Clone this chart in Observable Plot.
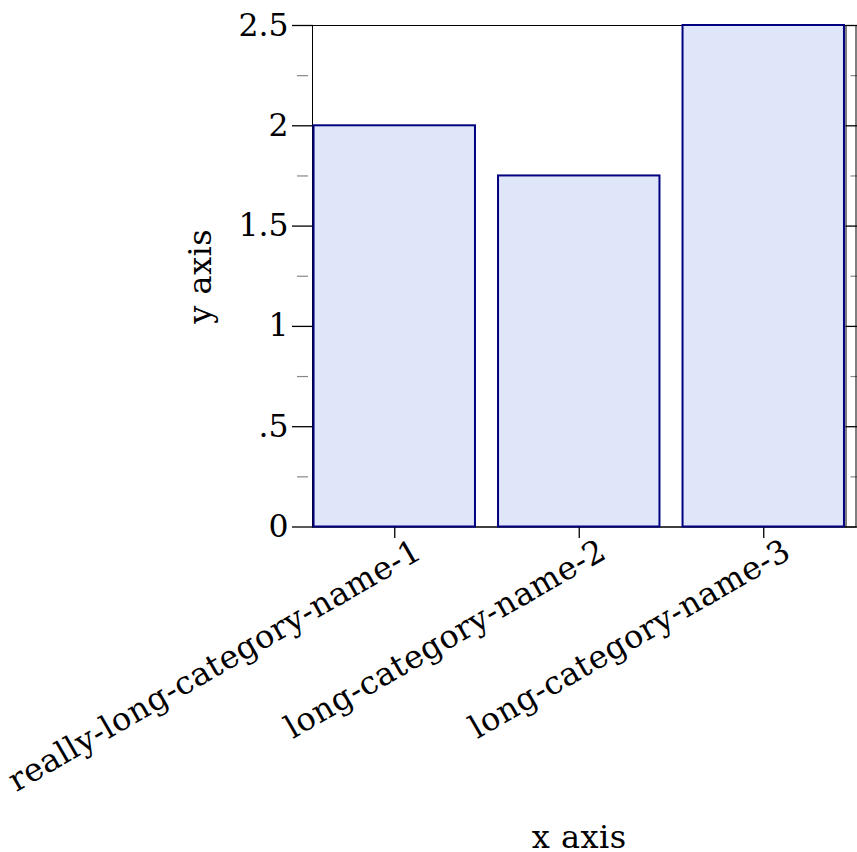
<!DOCTYPE html>
<html><head><meta charset="utf-8">
<script src="https://cdn.jsdelivr.net/npm/d3@7"></script>
<script src="https://cdn.jsdelivr.net/npm/@observablehq/plot@0.6"></script>
<style>body{margin:0;background:#fff} svg{display:block}</style>
</head><body><div id="chart"></div>
<script>
const categories = ["really-long-category-name-1", "long-category-name-2", "long-category-name-3"];
const values = [2, 1.75, 2.5];
const yMajorTicks = [0, 0.5, 1, 1.5, 2, 2.5];
const yTickLabels = ["0", ".5", "1", "1.5", "2", "2.5"];
const yMinorTicks = [0.25, 0.75, 1.25, 1.75, 2.25];
const xLabel = "x axis";
const yLabel = "y axis";

const gap = 1 / 8;
const bars = categories.map((c, i) => ({c, i, v: values[i]}));
const yLabeled = yMajorTicks.map((v, i) => ({v, t: yTickLabels[i]}));
const n = categories.length;

const hline = {draw(ctx, size) { const r = Math.sqrt(size / Math.PI); ctx.moveTo(-r, 0); ctx.lineTo(r, 0); }};
const vdown = {draw(ctx, size) { const r = Math.sqrt(size / Math.PI); ctx.moveTo(0, 0); ctx.lineTo(0, r); }};
const font = "'DejaVu Serif', serif";

const chart = Plot.plot({
  width: 857,
  height: 852,
  marginLeft: 302,
  marginRight: 1.5,
  marginTop: 25,
  marginBottom: 325.5,
  style: {background: "#fff", overflow: "visible"},
  x: {domain: [0, n], axis: null},
  y: {domain: [0, 2.5], axis: null},
  marks: [
    Plot.dot(yMinorTicks, {x: () => 0, y: d => d, symbol: hline, r: 5.5, stroke: "#888", fill: "none", strokeWidth: 1.2}),
    Plot.dot(yMinorTicks, {x: () => n, y: d => d, symbol: hline, r: 5.5, stroke: "#888", fill: "none", strokeWidth: 1.2}),
    Plot.dot(yMajorTicks, {x: () => 0, y: d => d, symbol: hline, r: 10.5, stroke: "#000", fill: "none", strokeWidth: 1.3}),
    Plot.dot(yMajorTicks, {x: () => n, y: d => d, symbol: hline, r: 10.5, stroke: "#000", fill: "none", strokeWidth: 1.3}),
    Plot.dot(bars, {x: d => d.i + 0.5, y: () => 0, symbol: vdown, r: 11, stroke: "#000", fill: "none", strokeWidth: 1.3}),
    Plot.frame({insetLeft: 10, stroke: "#000"}),
    Plot.frame({insetLeft: 10, insetRight: 10, stroke: "#000"}),
    Plot.rectY(bars, {x1: d => d.i + gap / 2, x2: d => d.i + 1 - gap / 2, y1: 0, y2: "v", fill: "#e0e6fa", stroke: "#000080", strokeWidth: 2}),
    Plot.text(yLabeled, {x: () => 0, y: "v", text: "t", textAnchor: "end", dx: -14, fontSize: 31.5, fontFamily: font, fill: "#000"}),
    Plot.text(bars, {x: d => d.i + 0.5, frameAnchor: "bottom", text: "c", rotate: -30, textAnchor: "end", lineAnchor: "bottom", dx: 29, dy: 30, fontSize: 32, fontFamily: font, fill: "#000"}),
    Plot.text([xLabel], {frameAnchor: "bottom", text: d => d, textAnchor: "middle", lineAnchor: "bottom", dy: 320.5, fontSize: 32, fontFamily: font, fill: "#000"}),
    Plot.text([yLabel], {frameAnchor: "left", text: d => d, rotate: -90, textAnchor: "middle", lineAnchor: "bottom", dx: -92, fontSize: 32, fontFamily: font, fill: "#000"})
  ]
});
// slightly wider glyph spacing for the category and axis labels, as in the reference rendering
const textGroups = d3.select(chart).selectAll("g[aria-label='text']").nodes();
textGroups.slice(1).forEach(g => d3.select(g).selectAll("text").style("letter-spacing", "0.5px"));
document.getElementById("chart").appendChild(chart);
</script>
</body></html>
